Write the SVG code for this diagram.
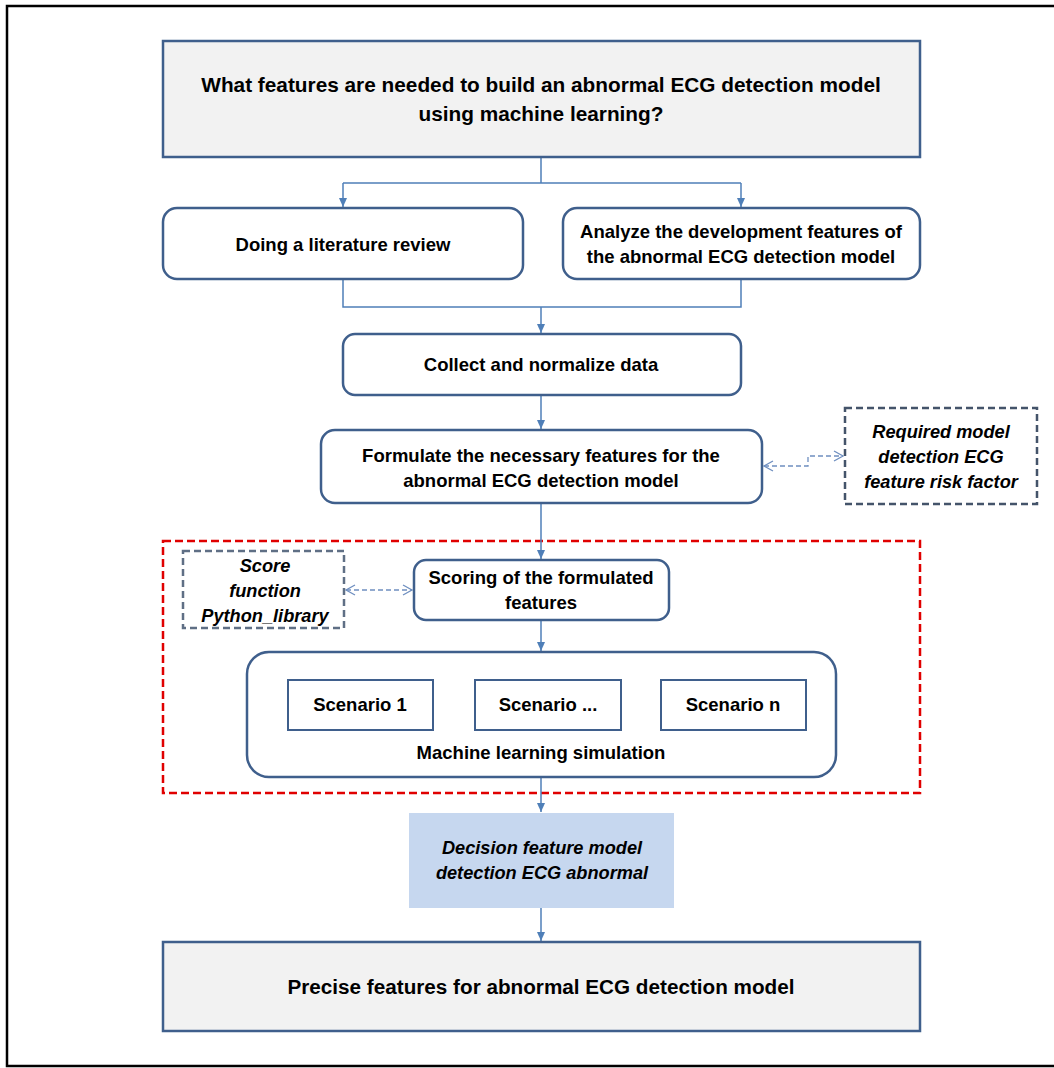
<svg xmlns="http://www.w3.org/2000/svg" width="1054" height="1068" viewBox="0 0 1054 1068">
<defs>
<style>
.t{font-family:"Liberation Sans",Arial,sans-serif;font-weight:bold;fill:#000;text-anchor:middle;font-size:18.5px}
.i{font-style:italic;font-size:18.2px}
.box{fill:#fff;stroke:#3f5f8c;stroke-width:2.5}
.gbox{fill:#f2f2f2;stroke:#3f5f8c;stroke-width:2.5}
.dbox{fill:#fff;stroke:#44546a;stroke-width:2.5;stroke-dasharray:7 4}
.c{fill:none;stroke:#4f7fb8;stroke-width:1.5}
.d{fill:none;stroke:#6f8fc0;stroke-width:1.3;stroke-dasharray:5 3}
</style>
<marker id="a" markerWidth="10" markerHeight="10" refX="9" refY="5" orient="auto" markerUnits="userSpaceOnUse">
<path d="M0,1 L9,5 L0,9 Z" fill="#4f7fb8"/>
</marker>
<marker id="o" markerWidth="12" markerHeight="12" refX="10" refY="6" orient="auto-start-reverse" markerUnits="userSpaceOnUse">
<path d="M1,1 L10,6 L1,11" fill="none" stroke="#6f8fc0" stroke-width="1.3"/>
</marker>
</defs>
<rect x="0" y="0" width="1054" height="1068" fill="#fff"/>
<path d="M1060,6 H7 V1066 H1060" fill="none" stroke="#000" stroke-width="2.5"/>

<g id="container">
<rect x="163" y="541" width="757" height="252" fill="none" stroke="#e00000" stroke-width="2.5" stroke-dasharray="8 4"/>
</g>

<g id="connectors">
<path class="c" d="M541,157 V183 M343,183 H741"/>
<path class="c" d="M343,183 V207" marker-end="url(#a)"/>
<path class="c" d="M741,183 V207" marker-end="url(#a)"/>
<path class="c" d="M343,279 V307 H741 V279"/>
<path class="c" d="M541,307 V333" marker-end="url(#a)"/>
<path class="c" d="M541,395 V429" marker-end="url(#a)"/>
<path class="c" d="M541,503 V559" marker-end="url(#a)"/>
<path class="c" d="M541,620 V651" marker-end="url(#a)"/>
<path class="c" d="M541,777 V812" marker-end="url(#a)"/>
<path class="c" d="M541,908 V941" marker-end="url(#a)"/>
<path class="d" d="M764,466 H808 V456 H843" marker-start="url(#o)" marker-end="url(#o)"/>
<path class="d" d="M346,590 H412" marker-start="url(#o)" marker-end="url(#o)"/>
</g>

<g id="question">
<rect class="gbox" x="163" y="41" width="757" height="116"/>
<text class="t" style="font-size:20.8px" x="541" y="92">What features are needed to build an abnormal ECG detection model</text>
<text class="t" style="font-size:20.8px" x="541" y="121">using machine learning?</text>
</g>

<g id="literature">
<rect class="box" x="163" y="208" width="360" height="71" rx="14"/>
<text class="t" x="343" y="251">Doing a literature review</text>
</g>

<g id="analyze">
<rect class="box" x="563" y="208" width="357" height="71" rx="14"/>
<text class="t" x="741" y="238">Analyze the development features of</text>
<text class="t" x="741" y="263">the abnormal ECG detection model</text>
</g>

<g id="collect">
<rect class="box" x="343" y="334" width="398" height="61" rx="12"/>
<text class="t" x="541" y="371">Collect and normalize data</text>
</g>

<g id="formulate">
<rect class="box" x="321" y="430" width="441" height="73" rx="14"/>
<text class="t" x="541" y="462">Formulate the necessary features for the</text>
<text class="t" x="541" y="487">abnormal ECG detection model</text>
</g>

<g id="required">
<rect class="dbox" x="845" y="408" width="192" height="96"/>
<text class="t i" x="941" y="438">Required model</text>
<text class="t i" x="941" y="463">detection ECG</text>
<text class="t i" x="941" y="488">feature risk factor</text>
</g>

<g id="score">
<rect class="dbox" x="183" y="551" width="161" height="77" style="stroke:#5f6f85"/>
<text class="t i" x="265" y="572">Score</text>
<text class="t i" x="265" y="597">function</text>
<text class="t i" x="265" y="622">Python_library</text>
</g>

<g id="scoring">
<rect class="box" x="414" y="560" width="255" height="60" rx="12"/>
<text class="t" x="541" y="584">Scoring of the formulated</text>
<text class="t" x="541" y="609">features</text>
</g>

<g id="ml">
<rect class="box" x="247" y="652" width="589" height="125" rx="22"/>
<text class="t" x="541" y="759">Machine learning simulation</text>
</g>

<g id="scenario1">
<rect class="box" x="288" y="680" width="145" height="50" style="stroke-width:2"/>
<text class="t" x="360" y="711">Scenario 1</text>
</g>
<g id="scenario2">
<rect class="box" x="475" y="680" width="146" height="50" style="stroke-width:2"/>
<text class="t" x="548" y="711">Scenario ...</text>
</g>
<g id="scenarion">
<rect class="box" x="661" y="680" width="145" height="50" style="stroke-width:2"/>
<text class="t" x="733" y="711">Scenario n</text>
</g>

<g id="decision">
<rect x="409" y="813" width="265" height="95" fill="#c6d7ef"/>
<text class="t i" x="542" y="854">Decision feature model</text>
<text class="t i" x="542" y="879">detection ECG abnormal</text>
</g>

<g id="precise">
<rect class="gbox" x="163" y="942" width="757" height="89"/>
<text class="t" style="font-size:20.7px" x="541" y="994">Precise features for abnormal ECG detection model</text>
</g>
</svg>
